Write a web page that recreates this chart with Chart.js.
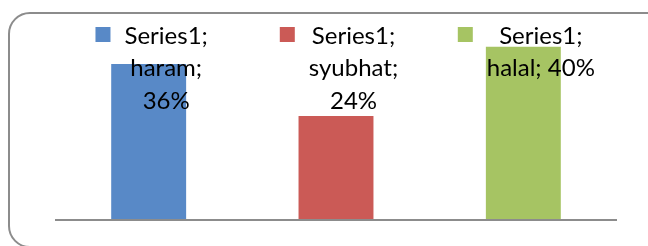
<!DOCTYPE html>
<html>
<head>
<meta charset="utf-8">
<script src="https://cdn.jsdelivr.net/npm/chart.js@4.4.0/dist/chart.umd.min.js"></script>
<style>
  html, body { margin: 0; padding: 0; background: #fff; overflow: hidden; }
  #wrap { position: relative; width: 648px; height: 246px; overflow: hidden; }
  #frame {
    position: absolute; left: 8px; top: 12px; width: 660px; height: 236px;
    border: 2px solid #8c8c8c; border-radius: 22px; box-sizing: border-box;
  }
  canvas { position: absolute; left: 0; top: 0; }
</style>
</head>
<body>
<div id="wrap">
  <div id="frame"></div>
  <canvas id="chart" width="648" height="246"></canvas>
</div>
<script>
const seriesName = "Series1";
const categories = ["haram", "syubhat", "halal"];
const values = [36, 24, 40];
const barColors = ["#5889c7", "#cb5a56", "#a6c463"];
// how each data label wraps, as in the picture
const labelLines = [
  ["Series1;", "haram;", "36%"],
  ["Series1;", "syubhat;", "24%"],
  ["Series1;", "halal; 40%"]
];

const canvas = document.getElementById("chart");
const ctx = canvas.getContext("2d");

const labelFont = "24px Lato";

// axis line along the bottom of the plot
const axisLine = {
  id: "axisLine",
  afterDatasetsDraw(chart) {
    const c = chart.ctx;
    const area = chart.chartArea;
    const y0 = chart.scales.y.getPixelForValue(0);
    c.save();
    c.strokeStyle = "#8c8c8c";
    c.lineWidth = 2;
    c.beginPath();
    c.moveTo(area.left, y0);
    c.lineTo(area.right, y0);
    c.stroke();
    c.restore();
  }
};

// data labels with a legend key, like Excel's "show legend key"
const keyLabels = {
  id: "keyLabels",
  afterDatasetsDraw(chart) {
    const c = chart.ctx;
    const meta = chart.getDatasetMeta(0);
    c.save();
    c.font = labelFont;
    c.textAlign = "center";
    c.textBaseline = "alphabetic";
    meta.data.forEach((bar, i) => {
      const lines = labelLines[i];
      const maxW = Math.max(...lines.map(t => c.measureText(t).width));
      const total = 29 + maxW;
      const left = bar.x + 3 - total / 2;
      const textX = left + 29 + maxW / 2;
      c.fillStyle = barColors[i];
      c.fillRect(left, 27, 15, 15);
      c.fillStyle = "#000";
      lines.forEach((t, k) => {
        c.fillText(t, textX, 43.5 + k * 32.5);
      });
    });
    c.restore();
  }
};

const chart = new Chart(ctx, {
  type: "bar",
  data: {
    labels: categories,
    datasets: [{
      label: seriesName,
      data: values,
      backgroundColor: barColors,
      borderWidth: 0,
      categoryPercentage: 1,
      barPercentage: 0.4
    }]
  },
  options: {
    responsive: false,
    animation: false,
    layout: { padding: { left: 55, right: 31, top: 25, bottom: 26 } },
    plugins: {
      legend: { display: false },
      tooltip: { enabled: false }
    },
    scales: {
      x: { display: false },
      y: { display: false, min: 0, max: 45 }
    }
  },
  plugins: [axisLine, keyLabels]
});
</script>
</body>
</html>
